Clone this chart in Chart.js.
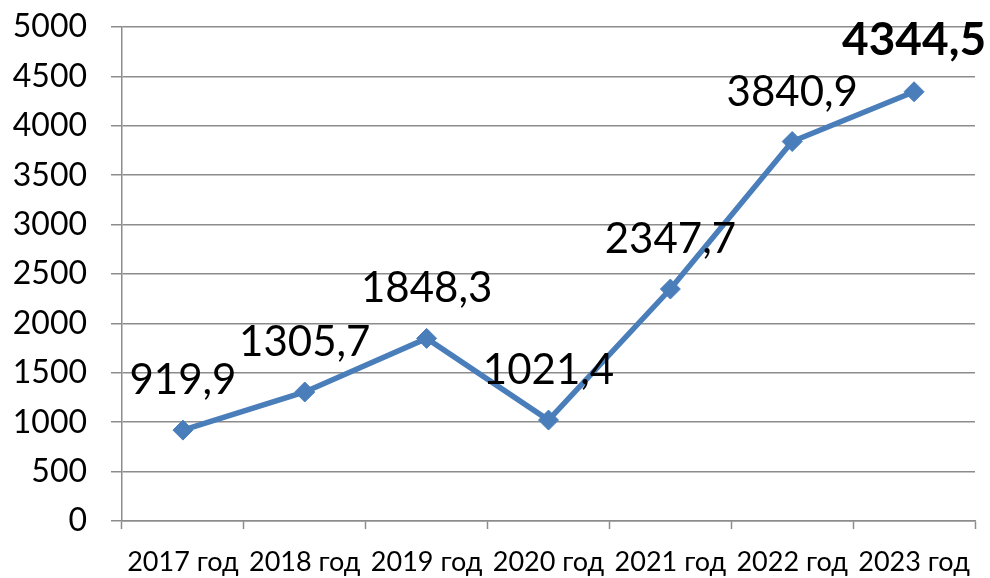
<!DOCTYPE html>
<html>
<head>
<meta charset="utf-8">
<script src="https://cdn.jsdelivr.net/npm/chart.js@4/dist/chart.umd.min.js"></script>
<style>
  html, body { margin: 0; padding: 0; background: #ffffff; }
  #wrap { width: 990px; height: 578px; position: relative; }
</style>
</head>
<body>
<div id="wrap"><canvas id="c" width="990" height="578"></canvas></div>
<script>
const categories = ["2017 год", "2018 год", "2019 год", "2020 год", "2021 год", "2022 год", "2023 год"];
const values = [919.9, 1305.7, 1848.3, 1021.4, 2347.7, 3840.9, 4344.5];
const valueLabels = ["919,9", "1305,7", "1848,3", "1021,4", "2347,7", "3840,9", "4344,5"];
const boldLabel = [false, false, false, false, false, false, true];

const FONT = "Lato, 'Open Sans', 'DejaVu Sans', sans-serif";

const labelPlugin = {
  id: 'valueLabels',
  afterDatasetsDraw(chart) {
    const ctx = chart.ctx;
    const meta = chart.getDatasetMeta(0);
    ctx.save();
    ctx.fillStyle = '#000000';
    ctx.textAlign = 'center';
    ctx.textBaseline = 'alphabetic';
    meta.data.forEach((pt, i) => {
      const bold = boldLabel[i];
      ctx.font = (bold ? 'bold 46px ' : '42px ') + FONT;
      ctx.fillText(valueLabels[i], pt.x, pt.y - (bold ? 37 : 36));
    });
    ctx.restore();
  }
};

new Chart(document.getElementById('c'), {
  type: 'line',
  data: {
    labels: categories,
    datasets: [{
      data: values,
      borderColor: '#4a7ebb',
      backgroundColor: '#4a7ebb',
      borderWidth: 5.5,
      pointStyle: 'rectRot',
      pointRadius: 10,
      pointHoverRadius: 10,
      pointBackgroundColor: '#4a7ebb',
      pointBorderColor: '#4a7ebb',
      pointBorderWidth: 1,
      tension: 0,
      fill: false,
      clip: false
    }]
  },
  options: {
    responsive: false,
    animation: false,
    devicePixelRatio: 1,
    layout: { autoPadding: false, padding: { top: 27, right: 15, left: 0, bottom: 0 } },
    plugins: {
      legend: { display: false },
      tooltip: { enabled: false },
      title: { display: false }
    },
    scales: {
      x: {
        type: 'category',
        offset: true,
        grid: {
          offset: true,
          drawOnChartArea: false,
          drawTicks: true,
          tickLength: 8,
          tickWidth: 1.5,
          tickColor: '#8c8c8c'
        },
        border: { display: true, color: '#8c8c8c', width: 1.5 },
        ticks: {
          color: '#000000',
          font: { family: FONT, size: 27 },
          padding: 17,
          maxRotation: 0,
          autoSkip: false
        },
        afterFit(scale) { scale.height = 57; }
      },
      y: {
        min: 0,
        max: 5000,
        grid: {
          color: '#8c8c8c',
          lineWidth: 1.5,
          drawTicks: true,
          tickLength: 11,
          tickColor: '#8c8c8c'
        },
        border: { display: true, color: '#8c8c8c', width: 1.5 },
        ticks: {
          stepSize: 500,
          color: '#000000',
          font: { family: FONT, size: 32 },
          padding: 24,
          callback: (v) => String(v)
        },
        afterFit(scale) { scale.width = 122; scale.paddingTop = 0; scale.paddingBottom = 0; }
      }
    }
  },
  plugins: [labelPlugin]
});
</script>
</body>
</html>
